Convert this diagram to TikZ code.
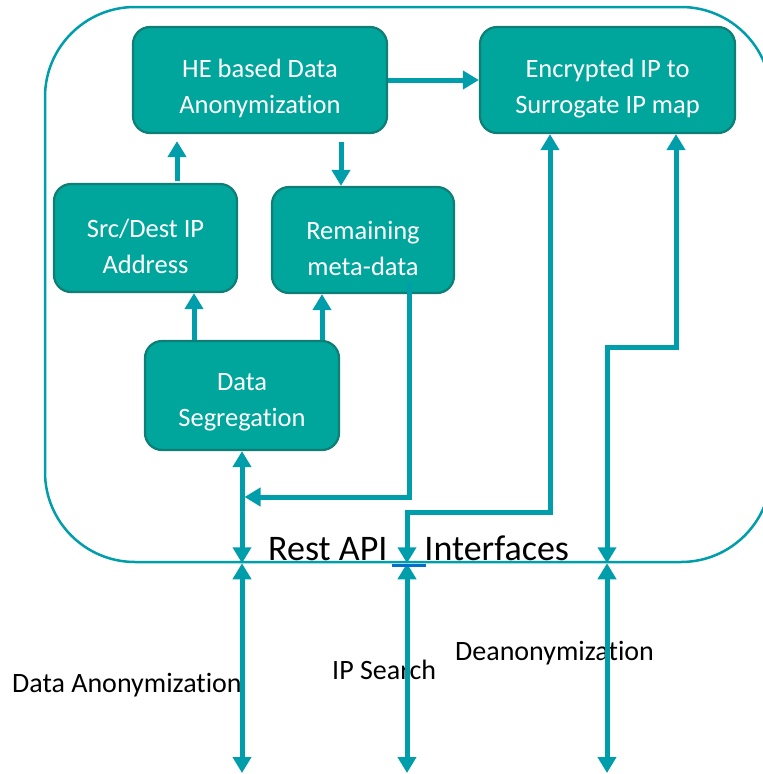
\documentclass[tikz,border=0pt]{standalone}
\usepackage{fontspec}
\setmainfont{Carlito}[Ligatures=NoCommon]
\usetikzlibrary{arrows.meta}
\definecolor{boxfill}{RGB}{0,166,156}
\definecolor{boxline}{RGB}{14,126,118}
\definecolor{linkc}{RGB}{0,158,170}
\definecolor{markblue}{RGB}{0,112,204}
\begin{document}
\begin{tikzpicture}[x=1pt,y=-1pt,
 procbox/.style={draw=boxline, line width=2.2pt, fill=boxfill, rounded corners=17pt, inner sep=0pt},
 boxtext/.style={text=white, font=\fontsize{26.5}{35.5}\selectfont, align=center, inner sep=0pt},
 lbl/.style={text=black, font=\fontsize{28}{33}\selectfont, inner sep=0pt, anchor=base west},
 link/.style={draw=linkc, line width=5pt, line join=miter, -{Triangle[width=18pt,length=16pt]}},
 dlink/.style={draw=linkc, line width=5pt, line join=miter, {Triangle[width=18pt,length=16pt]}-{Triangle[width=18pt,length=16pt]}},
 framebox/.style={draw=linkc, line width=2.5pt, rounded corners=90pt, inner sep=0pt}]
\clip (0,0) rectangle (763,774);
% outer frame
\node[framebox, minimum width=726pt, minimum height=555pt] (fr) at (408,284.5) {};
% boxes
\node[procbox, minimum width=254pt, minimum height=106pt] (he) at (260,80) {};
\node[boxtext] (he-t) at ([yshift=-8.5pt]he.center) {HE based Data\\Anonymization};
\node[procbox, minimum width=183pt, minimum height=108pt] (src) at (145.5,238) {};
\node[boxtext] (src-t) at ([yshift=-8.5pt]src.center) {Src/Dest IP\\Address};
\node[procbox, minimum width=182pt, minimum height=106pt] (rem) at (363,240) {};
\node[boxtext] (rem-t) at ([yshift=-8.5pt]rem.center) {Remaining\\meta-data};
\node[procbox, minimum width=255pt, minimum height=106pt] (enc) at (607.5,80) {};
\node[boxtext] (enc-t) at ([yshift=-8.5pt]enc.center) {Encrypted IP to\\Surrogate IP map};
\node[procbox, minimum width=194pt, minimum height=109pt] (seg) at (242,395.5) {};
\node[boxtext] (seg-t) at ([yshift=-7pt]seg.center) {Data\\Segregation};
% texts
\node[font=\fontsize{36}{40}\selectfont, anchor=base west, inner sep=0pt] (rest) at (268,560) {Rest API\hspace{37pt}Interfaces};
\node[lbl] (l1) at (12,692) {Data Anonymization};
\node[lbl] (l2) at (332,679) {IP Search};
\node[lbl] (l3) at (455,660) {Deanonymization};
% coordinates
\coordinate (p1) at ([xshift=31.5pt]src.north);
\coordinate (p2) at ([xshift=81pt]he.south);
\coordinate (p3) at ([xshift=-48pt]seg.north);
\coordinate (p4) at ([xshift=80pt]seg.north);
\coordinate (p5) at ([xshift=46pt,yshift=11pt]rem.south);
\coordinate (j1) at (244.5,497);
\coordinate (p6) at ([xshift=-57.5pt]enc.south);
\coordinate (k1) at (407,512);
\coordinate (p7) at ([xshift=68.5pt]enc.south);
\coordinate (k2) at (607,347);
\coordinate (b1) at (242,773);
\coordinate (b2) at (407,773);
\coordinate (b3) at (607,773);
% connectors
\draw[link, shorten <=2pt, shorten >=7pt] (p1) -- (p1 |- he.south);
\draw[link, shorten <=8pt] (p2) -- (p2 |- rem.north);
\draw[link] (p3) -- (p3 |- src.south);
\draw[link] (p4) -- (p4 |- rem.south);
\draw[link] (he.east) -- (enc.west);
\draw[link] (p5) |- (j1);
\draw[dlink] (seg.south) -- (seg.south |- fr.south);
\draw[dlink] (p6) |- (k1) -- (k1 |- fr.south);
\draw[dlink] (p7) |- (k2) -- (k2 |- fr.south);
\draw[dlink] (b1 |- fr.south) -- (b1);
\draw[dlink] (b2 |- fr.south) -- (b2);
\draw[dlink] (b3 |- fr.south) -- (b3);
% blue mark
\draw[markblue, line width=2.5pt] (392,565.5) -- (426,565.5);
\end{tikzpicture}
\end{document}
